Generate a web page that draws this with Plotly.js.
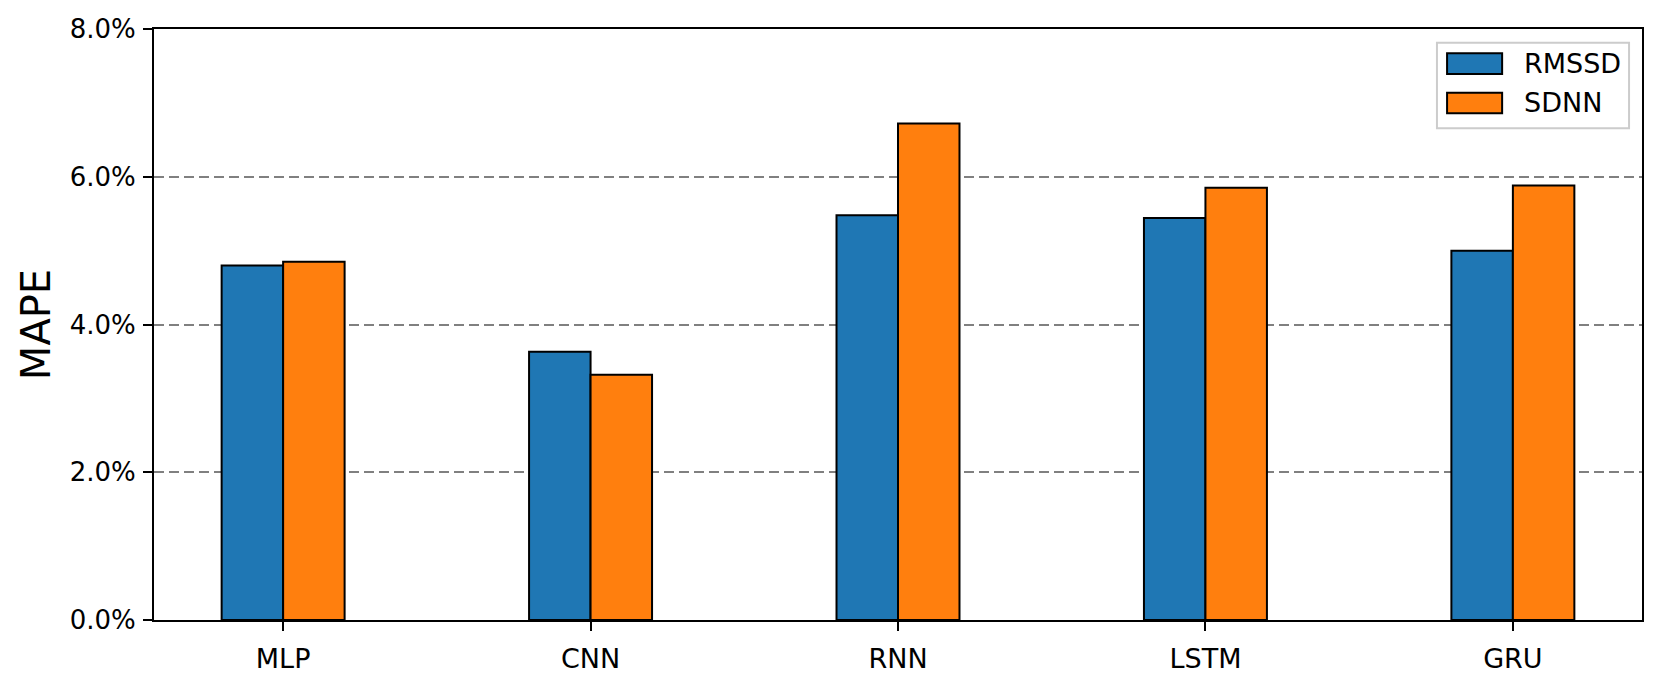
<!DOCTYPE html>
<html>
<head>
<meta charset="utf-8">
<script src="https://cdn.plot.ly/plotly-3.0.1.min.js"></script>
<style>
  html, body { margin: 0; padding: 0; background: #fff; }
  #grafico { width: 1662px; height: 684px; }
</style>
</head>
<body>
<div id="grafico"></div>
<script>
const modelos = ["MLP", "CNN", "RNN", "LSTM", "GRU"];
const mapeRmssd = [4.80, 3.63, 5.48, 5.44, 5.00];
const mapeSdnn = [4.85, 3.32, 6.72, 5.85, 5.88];
const nomesSeries = ["RMSSD", "SDNN"];
const coresSeries = ["#1f77b4", "#ff7f0e"];
const ticksY = [0, 2, 4, 6, 8];

const fonte = "DejaVu Sans, Liberation Sans, sans-serif";

// barras agrupadas, posicao x = indice do modelo
const posX = modelos.map((m, i) => i);

const traces = [mapeRmssd, mapeSdnn].map((valores, i) => ({
  x: posX,
  y: valores,
  type: "bar",
  name: nomesSeries[i],
  marker: {
    color: coresSeries[i],
    line: { color: "#000", width: 2 }
  },
  hoverinfo: "skip"
}));

// legenda desenhada a mao (estilo matplotlib, com retangulos largos)
const legX0 = 0.8622, legX1 = 0.9913;
const linhasLeg = [
  { y0: 0.9589, y1: 0.9239 },
  { y0: 0.8922, y1: 0.8574 }
];

const shapes = [{
  type: "rect", xref: "paper", yref: "paper",
  x0: legX0, x1: legX1, y0: 0.832, y1: 0.9768,
  fillcolor: "rgba(255,255,255,0.8)",
  line: { color: "#cccccc", width: 2 }
}];
const annotations = [];

linhasLeg.forEach((l, i) => {
  shapes.push({
    type: "rect", xref: "paper", yref: "paper",
    x0: 0.869, x1: 0.906, y0: l.y1, y1: l.y0,
    fillcolor: coresSeries[i],
    line: { color: "#000", width: 2 }
  });
  annotations.push({
    xref: "paper", yref: "paper",
    x: 0.9195, y: (l.y0 + l.y1) / 2,
    xanchor: "left", yanchor: "middle",
    text: nomesSeries[i], showarrow: false,
    font: { family: fonte, size: 27, color: "#000" }
  });
});

const layout = {
  width: 1662,
  height: 684,
  margin: { l: 154, r: 20, t: 29, b: 64 },
  paper_bgcolor: "#fff",
  plot_bgcolor: "#fff",
  barmode: "group",
  bargap: 0.6,
  bargroupgap: 0,
  showlegend: false,
  font: { family: fonte, size: 27, color: "#000" },
  xaxis: {
    range: [-0.42, 4.42],
    tickmode: "array",
    tickvals: posX,
    ticktext: modelos,
    ticks: "outside",
    ticklen: 9,
    tickwidth: 2,
    tickcolor: "#000",
    ticklabelstandoff: 5,
    showline: true,
    linecolor: "#000",
    linewidth: 2,
    mirror: true,
    showgrid: false,
    zeroline: false,
    tickfont: { family: fonte, size: 27, color: "#000" }
  },
  yaxis: {
    range: [0, 8],
    tickmode: "array",
    tickvals: ticksY,
    ticktext: ticksY.map(v => v.toFixed(1) + "%"),
    ticks: "outside",
    ticklen: 9,
    tickwidth: 2,
    tickcolor: "#000",
    ticklabelstandoff: 2,
    showline: true,
    linecolor: "#000",
    linewidth: 2,
    mirror: true,
    showgrid: true,
    gridcolor: "#808080",
    gridwidth: 2,
    griddash: "10px,5px",
    zeroline: false,
    tickfont: { family: fonte, size: 26, color: "#000" },
    title: {
      text: "MAPE",
      standoff: 7,
      font: { family: fonte, size: 40, color: "#000" }
    }
  },
  shapes: shapes,
  annotations: annotations
};

Plotly.newPlot("grafico", traces, layout, { staticPlot: true, displayModeBar: false });
</script>
</body>
</html>
